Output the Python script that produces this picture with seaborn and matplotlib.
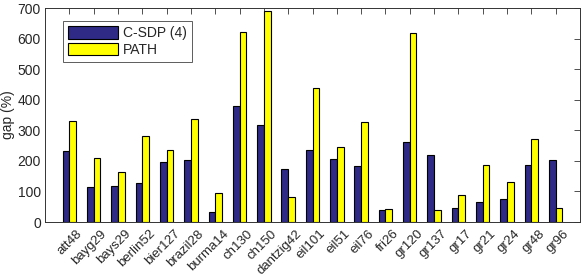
import matplotlib
matplotlib.use("Agg")
import matplotlib.pyplot as plt
import matplotlib.transforms as mtransforms
import seaborn as sns
import pandas as pd

instances = ["att48", "bayg29", "bays29", "berlin52", "bier127", "brazil28", "burma14",
             "ch130", "ch150", "dantzig42", "eil101", "eil51", "eil76", "fri26", "gr120",
             "gr137", "gr17", "gr21", "gr24", "gr48", "gr96"]
csdp = [233, 115, 117, 128, 195, 202, 33, 380, 318, 175, 235, 206, 184, 40, 262,
        220, 45, 67, 75, 188, 202]
path = [330, 210, 165, 282, 235, 337, 96, 621, 690, 83, 437, 245, 328, 42, 618,
        40, 88, 186, 130, 270, 47]
series_names = ["C-SDP (4)", "PATH"]
colors = ["#2e2a86", "#ffff00"]

df = pd.DataFrame({
    "instance": instances * 2,
    "gap": csdp + path,
    "method": [series_names[0]] * len(instances) + [series_names[1]] * len(instances),
})

sns.set_style("white")
plt.rcParams["font.family"] = ["Liberation Sans", "DejaVu Sans"]

fig = plt.figure(figsize=(5.81, 2.76), dpi=100)
ax = fig.add_axes([45 / 581, 1 - 222 / 276, 535 / 581, 214 / 276])

sns.barplot(data=df, x="instance", y="gap", hue="method", palette=colors,
            saturation=1, width=0.55, edgecolor="black", linewidth=0.8, ax=ax,
            legend=True)

ax.set_xlim(-1, len(instances))
ax.set_ylim(0, 700)
ax.set_yticks(range(0, 701, 100))
ax.set_xlabel("")
ax.set_ylabel("gap (%)", fontsize=10, labelpad=2)
ax.set_xticks(range(len(instances)))
ax.set_xticklabels(instances, rotation=45, ha="right", rotation_mode="anchor", fontsize=9.5)
ax.tick_params(axis="y", labelsize=10, pad=3)
ax.tick_params(direction="in", length=4, width=0.6, top=True, right=True, color="#333333")
ax.tick_params(axis="x", pad=4)
offset = mtransforms.ScaledTranslation(0.07, 0.0, fig.dpi_scale_trans)
for lbl in ax.get_xticklabels():
    lbl.set_transform(lbl.get_transform() + offset)
for s in ax.spines.values():
    s.set_visible(True)
    s.set_color("#333333")
    s.set_linewidth(0.7)

leg = ax.legend(loc="upper left", bbox_to_anchor=(0.02, 0.97), fontsize=10,
                frameon=True, fancybox=False, edgecolor="#333333",
                handlelength=3.6, handleheight=1.0, borderpad=0.35, labelspacing=0.2,
                handletextpad=0.4)
leg.get_frame().set_linewidth(0.7)

fig.savefig("out.png", dpi=100)
